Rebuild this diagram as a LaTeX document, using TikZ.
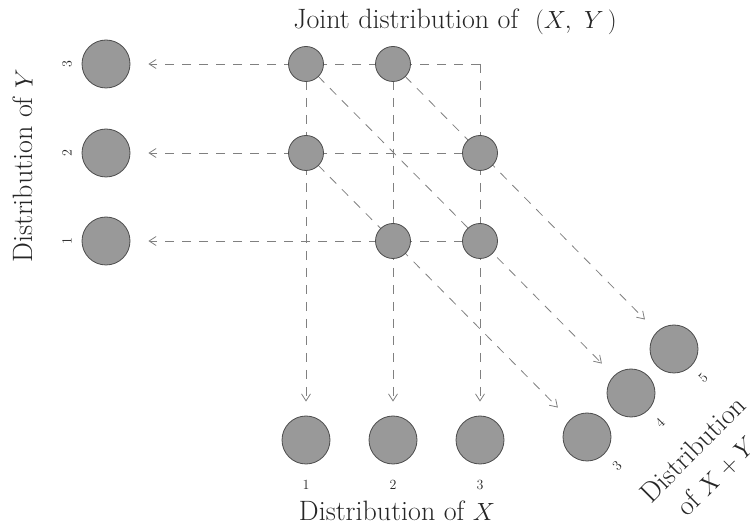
\documentclass[tikz,border=0pt]{standalone}
\usetikzlibrary{arrows.meta,backgrounds}
\begin{document}
\begin{tikzpicture}[x=1pt,y=-1pt,
    dot/.style={circle,draw=black!70,fill=gray!80,line width=0.8pt,minimum size=35pt,inner sep=0pt},
    bigdot/.style={dot,minimum size=48pt},
    guide/.style={gray,line width=0.8pt,dash pattern=on 9pt off 8pt},
    flow/.style={guide,-{Straight Barb[length=7pt,width=9pt]}},
    lab/.style={text=black!85,font=\fontsize{28}{33}\selectfont},
    num/.style={text=black!85,font=\fontsize{14}{16}\selectfont}]
    \useasboundingbox (0,0) rectangle (756,529);
    % Joint distribution
    \node[dot] (j13) at (306,64) {};
    \node[dot] (j23) at (393,64) {};
    \node[dot] (j12) at (306,153) {};
    \node[dot] (j32) at (480,153) {};
    \node[dot] (j21) at (393,241) {};
    \node[dot] (j31) at (480,241) {};
    \coordinate (c33) at (480,64);
    % Distribution of Y
    \node[bigdot] (y3) at (106,64) {};
    \node[bigdot] (y2) at (106,153) {};
    \node[bigdot] (y1) at (106,241) {};
    % Distribution of X
    \node[bigdot] (x1) at (306,440) {};
    \node[bigdot] (x2) at (393,440) {};
    \node[bigdot] (x3) at (480,440) {};
    % Distribution of X+Y
    \node[bigdot] (s3) at (587,437) {};
    \node[bigdot] (s4) at (631,393) {};
    \node[bigdot] (s5) at (674,349) {};
    % Linee
    \begin{scope}[on background layer]
        \draw[flow,shorten >=18pt] (c33) -- (y3);
        \draw[flow,shorten >=18pt] (j32.center) -- (y2);
        \draw[flow,shorten >=18pt] (j31.center) -- (y1);
        \draw[flow,shorten >=14pt] (j13.center) -- (x1);
        \draw[flow,shorten >=14pt] (j23.center) -- (x2);
        \draw[flow,shorten >=14pt] (c33) -- (x3);
        \draw[flow,shorten >=17pt] (j12.center) -- (s3);
        \draw[flow,shorten >=17pt] (j13.center) -- (s4);
        \draw[flow,shorten >=17pt] (j23.center) -- (s5);
    \end{scope}
    % Writing space
    \node[lab] (title) at (455,22) {Joint distribution of~ $(X,\ Y\,)$};
    \node[lab,rotate=90] (ytitle) at (23,166) {Distribution of $Y$};
    \node[lab] (xtitle) at (397,511) {Distribution of $X$};
    \node[lab,rotate=45] (stitle) at (693,449) {Distribution};
    \node[lab,rotate=45] (stitle2) at (716,476) {of $X+Y$};
    \node[num,rotate=90] (ly3) at (67,64) {3};
    \node[num,rotate=90] (ly2) at (67,153) {2};
    \node[num,rotate=90] (ly1) at (67,241) {1};
    \node[num] (lx1) at (306,485) {1};
    \node[num] (lx2) at (393,485) {2};
    \node[num] (lx3) at (480,485) {3};
    \node[num,rotate=45] (ls3) at (617,466) {3};
    \node[num,rotate=45] (ls4) at (660,423) {4};
    \node[num,rotate=45] (ls5) at (703,378) {5};
\end{tikzpicture}
\end{document}
